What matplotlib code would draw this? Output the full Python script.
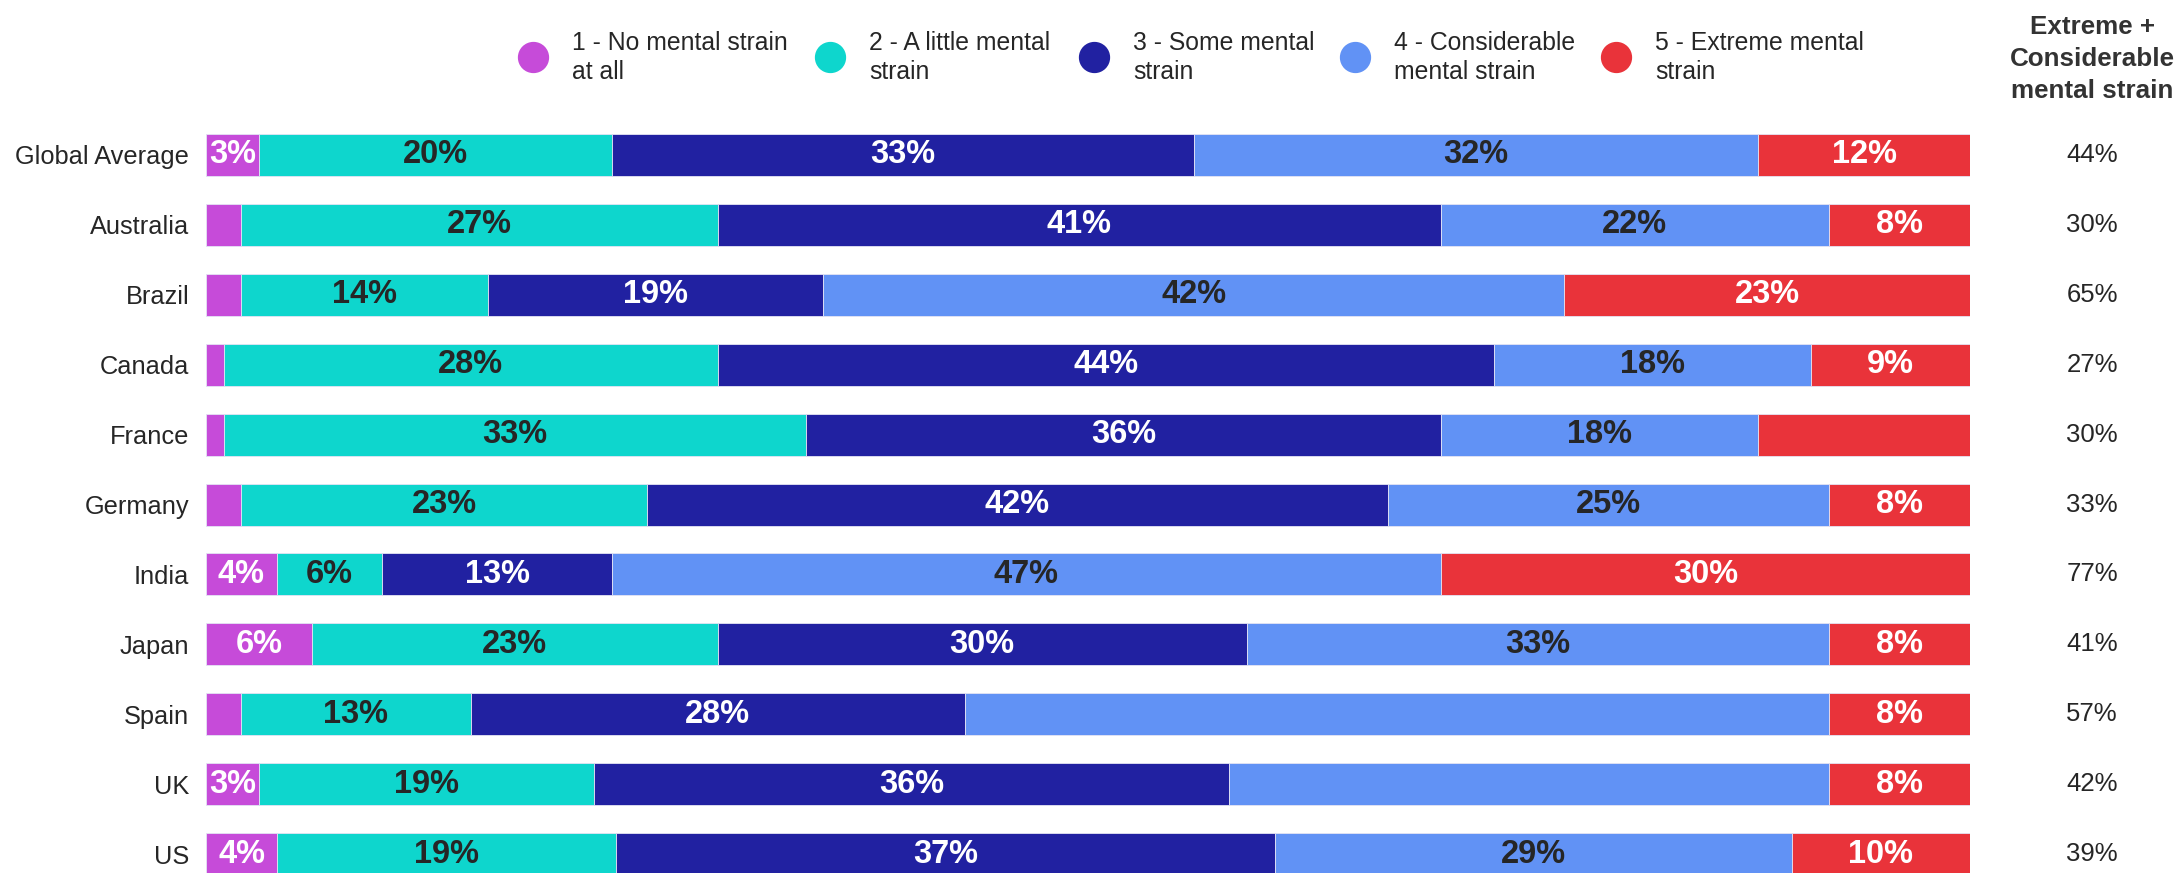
import matplotlib.pyplot as plt
from matplotlib.lines import Line2D
import matplotlib.transforms as mtransforms
import numpy as np

# share of respondents per strain level (%)
countries = ['Global Average', 'Australia', 'Brazil', 'Canada', 'France', 'Germany',
             'India', 'Japan', 'Spain', 'UK', 'US']
no_strain    = [3, 2, 2, 1, 1, 2, 4, 6, 2, 3, 4]
little       = [20, 27, 14, 28, 33, 23, 6, 23, 13, 19, 19]
some         = [33, 41, 19, 44, 36, 42, 13, 30, 28, 36, 37]
considerable = [32, 22, 42, 18, 18, 25, 47, 33, 49, 34, 29]
extreme      = [12, 8, 23, 9, 12, 8, 30, 8, 8, 8, 10]
ext_cons     = [44, 30, 65, 27, 30, 33, 77, 41, 57, 42, 39]

levels = ['1 - No mental strain\nat all', '2 - A little mental\nstrain', '3 - Some mental\nstrain',
          '4 - Considerable\nmental strain', '5 - Extreme mental\nstrain']
colors = ['#C64BD9', '#0ED6CD', '#2121A1', '#6192F5', '#E9333A']
label_colors = ['white', '#262626', 'white', '#262626', 'white']

# segments whose value label is not printed in the original
hidden = [('Australia', 0), ('Brazil', 0), ('Canada', 0), ('France', 0), ('France', 4),
          ('Germany', 0), ('Spain', 0), ('Spain', 3), ('UK', 3)]

font = ['Liberation Sans', 'DejaVu Sans']
plt.rcParams['font.family'] = font

data = np.array([no_strain, little, some, considerable, extreme], dtype=float)
share = data / data.sum(axis=0)

W, H = 2180, 873
fig = plt.figure(figsize=(W / 100, H / 100), dpi=100)
ax = fig.add_axes([206 / W, 0, 1764 / W, 753 / H])

y = np.arange(len(countries))
left = np.zeros(len(countries))
for k in range(5):
    ax.barh(y, share[k], left=left, height=0.6, color=colors[k],
            edgecolor='#e4e4f4', linewidth=0.6)
    for i, c in enumerate(countries):
        if (c, k) in hidden:
            continue
        ax.text(left[i] + share[k][i] / 2, i, f'{int(data[k][i])}%',
                ha='center', va='center', fontsize=23.5, fontweight='bold',
                color=label_colors[k])
    left += share[k]

ax.set_xlim(0, 1)
ax.set_ylim(10.27, -0.5)
ax.set_yticks(y, countries, fontsize=18.3, color='#262626')
ax.set_xticks([])
ax.tick_params(axis='y', length=0, pad=12)
for s in ax.spines.values():
    s.set_visible(False)

# right column: extreme + considerable
tr = mtransforms.blended_transform_factory(fig.transFigure, ax.transData)
for i, v in enumerate(ext_cons):
    ax.text(2092 / W, i, f'{v}%', transform=tr, ha='center', va='center',
            fontsize=18.5, color='#262626')
fig.text(2092 / W, 1 - 59 / H, 'Extreme +\nConsiderable\nmental strain',
         ha='center', va='center', fontsize=18.7, fontweight='bold', color='#333333',
         linespacing=1.42)

# legend, laid out by hand like the original
legend_x = [533, 830, 1094, 1355, 1616]
for x, c, lab in zip(legend_x, colors, levels):
    fig.add_artist(Line2D([x / W], [1 - 57 / H], transform=fig.transFigure, marker='o',
                          markersize=21.5, markerfacecolor=c, markeredgecolor=c,
                          linestyle='none'))
    fig.text((x + 39) / W, 1 - 57.5 / H, lab, ha='left', va='center', fontsize=17.8,
             color='#262626', linespacing=1.3)

plt.savefig('out.png', dpi=100)
